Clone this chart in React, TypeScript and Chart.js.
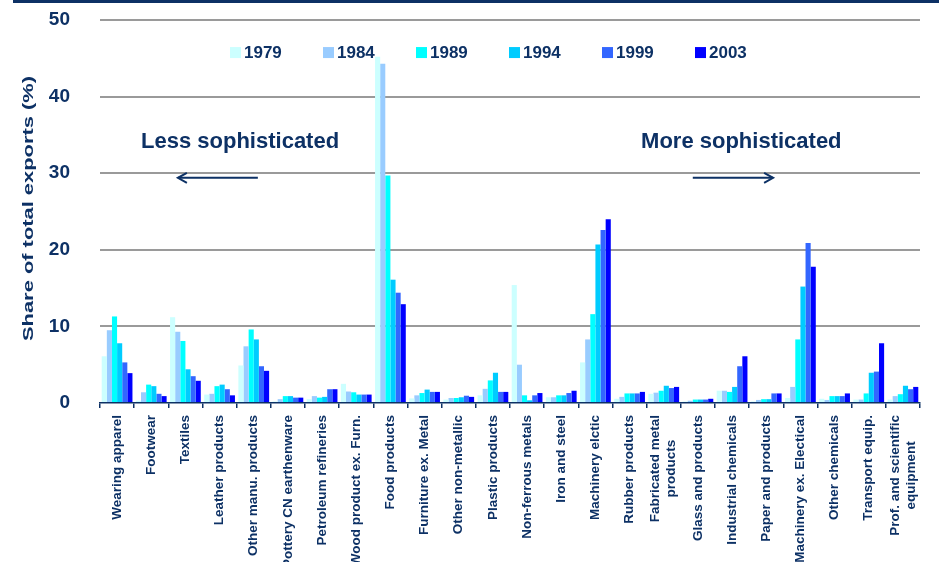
import React, { useEffect, useRef } from 'react';
import { Chart, registerables } from 'chart.js';

Chart.register(...registerables);

const NAVY = '#0d3165';
const FONT = "'Liberation Sans', Arial, Helvetica, sans-serif";

const categories: (string | string[])[] = [
  'Wearing apparel',
  'Footwear',
  'Textiles',
  'Leather products',
  'Other manu. products',
  'Pottery CN earthenware',
  'Petroleum refineries',
  'Wood product ex. Furn.',
  'Food products',
  'Furniture ex. Metal',
  'Other non-metallic',
  'Plastic products',
  'Non-ferrous metals',
  'Iron and steel',
  'Machinery elctic',
  'Rubber products',
  ['Fabricated metal', 'products'],
  'Glass and products',
  'Industrial chemicals',
  'Paper and products',
  'Machinery ex. Electical',
  'Other chemicals',
  'Transport equip.',
  ['Prof. and scientific', 'equipment'],
];

const years = ['1979', '1984', '1989', '1994', '1999', '2003'];
const colors = ['#CCFFFF', '#99CCFF', '#00FFFF', '#00CCFF', '#3366FF', '#0000FF'];

const v1979 = [6.1, 0.3, 11.2, 1.1, 4.9, 0.2, 0.5, 2.5, 45.2, 0.6, 0.45, 1.0, 15.4, 0.75, 5.3, 0.55, 1.2, 0.2, 1.6, 0.2, 0.65, 0.55, 0.45, 0.45];
const v1984 = [9.5, 1.4, 9.3, 1.2, 7.4, 0.5, 0.9, 1.5, 44.3, 1.0, 0.65, 1.85, 5.0, 0.75, 8.3, 0.8, 1.35, 0.3, 1.6, 0.4, 2.1, 0.4, 0.45, 0.9];
const v1989 = [11.3, 2.4, 8.1, 2.2, 9.6, 0.9, 0.7, 1.4, 29.7, 1.3, 0.65, 2.95, 1.0, 1.0, 11.6, 1.25, 1.6, 0.45, 1.45, 0.5, 8.3, 0.9, 1.25, 1.15];
const v1994 = [7.8, 2.2, 4.4, 2.4, 8.3, 0.9, 0.8, 1.1, 16.1, 1.75, 0.75, 3.95, 0.35, 1.0, 20.7, 1.25, 2.25, 0.45, 2.1, 0.5, 15.2, 0.9, 3.95, 2.25];
const v1999 = [5.3, 1.2, 3.5, 1.8, 4.8, 0.7, 1.8, 1.1, 14.4, 1.45, 0.95, 1.45, 1.0, 1.3, 22.6, 1.25, 1.95, 0.45, 4.8, 1.25, 20.9, 0.9, 4.1, 1.8];
const v2003 = [3.9, 0.9, 2.9, 1.0, 4.2, 0.7, 1.8, 1.1, 12.9, 1.45, 0.8, 1.45, 1.3, 1.6, 24.0, 1.45, 2.1, 0.55, 6.1, 1.25, 17.8, 1.25, 7.8, 2.1];
const series = [v1979, v1984, v1989, v1994, v1999, v2003];

const yMin = 0;
const yMax = 50;
const yStep = 10;

const yTitle = 'Share of total exports (%)';
const leftNote = 'Less sophisticated';
const rightNote = 'More sophisticated';

export default function App() {
  const ref = useRef<HTMLCanvasElement>(null);

  useEffect(() => {
    const overlay = {
      id: 'overlay',
      afterDraw(chart: any) {
        const { ctx, scales } = chart;
        const x = scales.x;
        const y = scales.y;
        ctx.save();

        // y-axis title (stretched along its length, like the original)
        ctx.fillStyle = NAVY;
        ctx.font = `bold 14px ${FONT}`;
        ctx.textAlign = 'center';
        ctx.textBaseline = 'middle';
        const tw = ctx.measureText(yTitle).width;
        const stretch = 265 / tw;
        ctx.save();
        ctx.translate(29, (y.top + y.bottom) / 2 - 3);
        ctx.rotate(-Math.PI / 2);
        ctx.scale(stretch, 1);
        ctx.fillText(yTitle, 0, 0);
        ctx.restore();

        // category labels (rotated, centred block)
        ctx.font = `bold 13.5px ${FONT}`;
        ctx.textBaseline = 'middle';
        ctx.textAlign = 'center';
        const lh = 16;
        const y0 = x.top + 12;
        categories.forEach((lab, i) => {
          const lines = Array.isArray(lab) ? lab : [lab];
          const px = x.getPixelForTick(i);
          const W = Math.max(...lines.map((l) => ctx.measureText(l).width));
          ctx.save();
          ctx.translate(px, y0);
          ctx.rotate(-Math.PI / 2);
          lines.forEach((l, j) => {
            ctx.fillText(l, -W / 2, (j - (lines.length - 1) / 2) * lh);
          });
          ctx.restore();
        });

        // legend
        ctx.font = `bold 17px ${FONT}`;
        ctx.textAlign = 'left';
        ctx.textBaseline = 'middle';
        const ly = y.getPixelForValue(45.75);
        years.forEach((yr, i) => {
          const bx = x.left + 130 + i * 93;
          ctx.fillStyle = colors[i];
          ctx.fillRect(bx, ly - 5.5, 11, 11);
          ctx.fillStyle = NAVY;
          ctx.fillText(yr, bx + 14, ly + 0.5);
        });

        // annotations
        ctx.font = `bold 22px ${FONT}`;
        ctx.textAlign = 'center';
        ctx.fillStyle = NAVY;
        const ty = y.getPixelForValue(34.1);
        ctx.fillText(leftNote, x.getPixelForValue(3.6), ty);
        ctx.fillText(rightNote, x.getPixelForValue(18.27), ty);

        const ay = y.getPixelForValue(29.4);
        ctx.strokeStyle = NAVY;
        ctx.lineWidth = 2;
        const arrow = (from: number, to: number) => {
          const dir = Math.sign(to - from);
          ctx.beginPath();
          ctx.moveTo(from, ay);
          ctx.lineTo(to, ay);
          ctx.stroke();
          ctx.beginPath();
          ctx.moveTo(to - dir * 9, ay - 5);
          ctx.lineTo(to, ay);
          ctx.lineTo(to - dir * 9, ay + 5);
          ctx.stroke();
        };
        arrow(x.getPixelForValue(4.12), x.getPixelForValue(1.78));
        arrow(x.getPixelForValue(16.85), x.getPixelForValue(19.2));

        ctx.restore();
      },
    };

    const chart = new Chart(ref.current as HTMLCanvasElement, {
      type: 'bar',
      data: {
        labels: categories as any,
        datasets: years.map((yr, i) => ({
          label: yr,
          data: series[i],
          backgroundColor: colors[i],
          borderWidth: 0,
          categoryPercentage: 0.9,
          barPercentage: 1.0,
        })),
      },
      options: {
        animation: false,
        responsive: true,
        maintainAspectRatio: false,
        layout: { padding: { top: 20, right: 19, left: 0, bottom: 0 } },
        plugins: {
          legend: { display: false },
          tooltip: { enabled: false },
        },
        scales: {
          x: {
            grid: {
              display: true,
              drawOnChartArea: false,
              drawTicks: true,
              tickLength: 5,
              color: NAVY,
              lineWidth: 1.5,
              offset: true,
            },
            border: { display: true, color: NAVY, width: 1.5 },
            ticks: { display: false },
            afterFit: (s: any) => {
              s.height = 159;
              s.paddingLeft = 0;
              s.paddingRight = 0;
            },
          },
          y: {
            min: yMin,
            max: yMax,
            ticks: {
              stepSize: yStep,
              padding: 30,
              color: NAVY,
              font: { size: 19, weight: 'bold', family: FONT },
            },
            grid: {
              color: (c: any) => (c.tick && c.tick.value === 0 ? 'rgba(0,0,0,0)' : '#9a9a9a'),
              lineWidth: 2,
              drawTicks: false,
            },
            border: { display: false },
            title: { display: false },
            afterFit: (s: any) => {
              s.width = 100;
              s.paddingTop = 0;
              s.paddingBottom = 0;
            },
          },
        },
      },
      plugins: [overlay],
    });
    return () => chart.destroy();
  }, []);

  return (
    <div style={{ position: 'fixed', left: 0, top: 0, width: 939, height: 562, background: '#fff' }}>
      <div style={{ position: 'absolute', left: 13, top: 0, right: 0, height: 3, background: NAVY }} />
      <canvas ref={ref} />
    </div>
  );
}
